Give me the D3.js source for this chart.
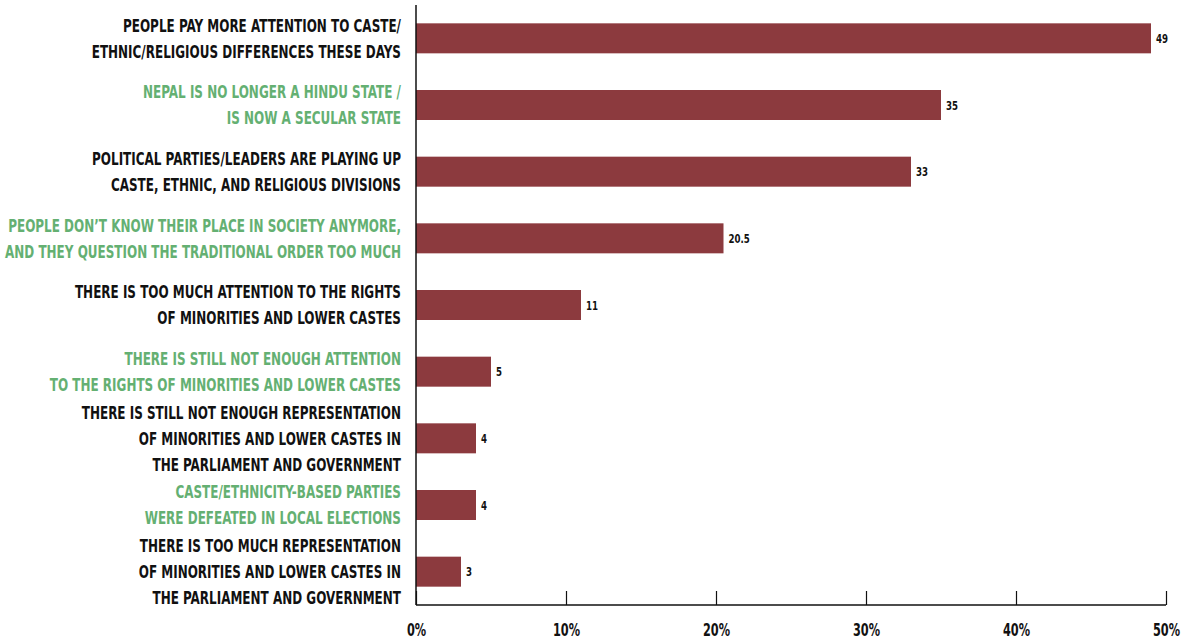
<!DOCTYPE html>
<html>
<head>
<meta charset="utf-8">
<script src="https://cdn.jsdelivr.net/npm/d3@7"></script>
<style>
  html, body { margin: 0; padding: 0; background: #fff; }
  svg { display: block; }
  .lbl, .val, .tick text { font-family: "Liberation Sans Narrow", "DejaVu Sans Condensed", "Roboto Condensed", sans-serif; font-weight: 700; }
</style>
</head>
<body>
<svg id="chart" width="1187" height="642"></svg>
<script>
// Reasons given, each split into its printed lines
const categories = [
  ["PEOPLE PAY MORE ATTENTION TO CASTE/", "ETHNIC/RELIGIOUS DIFFERENCES THESE DAYS"],
  ["NEPAL IS NO LONGER A HINDU STATE /", "IS NOW A SECULAR STATE "],
  ["POLITICAL PARTIES/LEADERS ARE PLAYING UP", "CASTE, ETHNIC, AND RELIGIOUS DIVISIONS"],
  ["PEOPLE DON\u2019T KNOW THEIR PLACE IN SOCIETY ANYMORE,", "AND THEY QUESTION THE TRADITIONAL ORDER TOO MUCH"],
  ["THERE IS TOO MUCH ATTENTION TO THE RIGHTS", "OF MINORITIES AND LOWER CASTES"],
  ["THERE IS STILL NOT ENOUGH ATTENTION", "TO THE RIGHTS OF MINORITIES AND LOWER CASTES"],
  ["THERE IS STILL NOT ENOUGH REPRESENTATION", "OF MINORITIES AND LOWER CASTES IN", "THE PARLIAMENT AND GOVERNMENT"],
  ["CASTE/ETHNICITY-BASED PARTIES", "WERE DEFEATED IN LOCAL ELECTIONS"],
  ["THERE IS TOO MUCH REPRESENTATION", "OF MINORITIES AND LOWER CASTES IN", "THE PARLIAMENT AND GOVERNMENT"]
];
// Share of respondents (%)
const values = [49, 35, 33, 20.5, 11, 5, 4, 4, 3];
// Alternating label colouring
const labelGroups = ["dark", "green", "dark", "green", "dark", "green", "dark", "green", "dark"];
const xTicks = [0, 10, 20, 30, 40, 50];

const svg = d3.select("#chart");
const margin = { top: 5, right: 21, bottom: 37, left: 416 };
const W = 1187, H = 642;
const BAR = "#8c3a3e", GREEN = "#64b072", DARK = "#111";
const SX = 0.74; // horizontal condensing of the label type

const x = d3.scaleLinear().domain([0, 50]).range([margin.left, W - margin.right]);
const y = d3.scaleBand().domain(d3.range(values.length))
  .range([margin.top, H - margin.bottom]).paddingInner(0.55).paddingOuter(0.275);

// bars
svg.append("g").selectAll("rect").data(values).join("rect")
  .attr("x", x(0)).attr("y", (d, i) => y(i))
  .attr("width", d => x(d) - x(0)).attr("height", y.bandwidth())
  .attr("fill", BAR);

// value labels
svg.append("g").selectAll("g").data(values).join("g")
  .attr("transform", (d, i) => `translate(${x(d) + 5},${y(i) + y.bandwidth() / 2}) scale(${SX},1)`)
  .append("text").attr("class", "val")
  .attr("dy", "0.36em").attr("font-size", 13).attr("fill", DARK)
  .text(d => d);

// category labels, right-aligned and horizontally condensed
const lineH = 26;
const lg = svg.append("g").selectAll("g").data(categories).join("g")
  .attr("transform", (d, i) => {
    const cy = y(i) + y.bandwidth() / 2;
    return `translate(401,${cy}) scale(${SX},1)`;
  });
lg.append("text").attr("class", "lbl")
  .attr("text-anchor", "end").attr("font-size", 18)
  .attr("fill", (d, i) => labelGroups[i] === "green" ? GREEN : DARK)
  .selectAll("tspan").data(d => d.map((t, k) => ({ t, k, n: d.length }))).join("tspan")
  .attr("x", 0)
  .attr("y", d => (d.k - (d.n - 1) / 2) * lineH)
  .attr("dy", "0.36em")
  .text(d => d.t);

// x axis with inward ticks
const xAxis = d3.axisBottom(x).tickValues(xTicks).tickSize(-14).tickPadding(19)
  .tickFormat(d => d + "%");
const gx = svg.append("g").attr("transform", `translate(0,${H - margin.bottom})`).call(xAxis);
gx.select(".domain").attr("stroke", "#111").attr("stroke-width", 1.5).attr("d", `M${x(0)},0H${x(50)}`);
gx.selectAll(".tick line").attr("stroke", "#111").attr("stroke-width", 1.2);
gx.selectAll(".tick text").attr("font-size", 17).attr("fill", DARK).attr("font-family", null)
  .attr("transform", `scale(${SX},1)`);

// y axis line
svg.append("line").attr("x1", x(0)).attr("x2", x(0))
  .attr("y1", margin.top).attr("y2", H - margin.bottom)
  .attr("stroke", "#111").attr("stroke-width", 1.5);
</script>
</body>
</html>
